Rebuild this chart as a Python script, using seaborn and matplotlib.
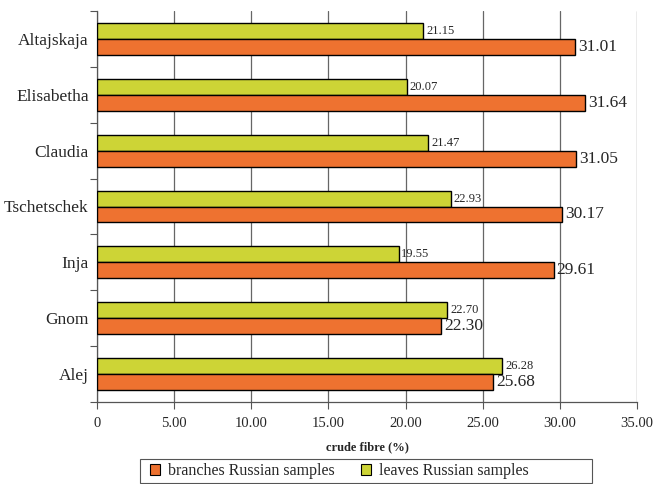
import matplotlib
matplotlib.use("Agg")
import matplotlib.pyplot as plt
from matplotlib.patches import Patch, Rectangle
from matplotlib.ticker import FuncFormatter, FixedLocator
import pandas as pd
import seaborn as sns

categories = ["Altajskaja", "Elisabetha", "Claudia", "Tschetschek", "Inja", "Gnom", "Alej"]
branches = [31.01, 31.64, 31.05, 30.17, 29.61, 22.30, 25.68]
leaves = [21.15, 20.07, 21.47, 22.93, 19.55, 22.70, 26.28]
series_names = ["branches Russian samples", "leaves Russian samples"]
x_ticks = [0, 5, 10, 15, 20, 25, 30, 35]

colors = {"branches Russian samples": "#EE7230", "leaves Russian samples": "#CDD436"}

df = pd.DataFrame({
    "variety": categories * 2,
    "value": leaves + branches,
    "series": [series_names[1]] * len(categories) + [series_names[0]] * len(categories),
})

sns.set_style("white")
plt.rcParams["font.family"] = ["Liberation Serif", "DejaVu Serif"]

W, H = 659, 484
fig = plt.figure(figsize=(W / 100, H / 100), dpi=100)
ax = fig.add_axes([97 / W, 1 - 402 / H, 540 / W, 391 / H])

sns.barplot(
    data=df, y="variety", x="value", hue="series",
    order=categories, hue_order=[series_names[1], series_names[0]],
    palette=colors, saturation=1, orient="h", width=0.57, edgecolor="black",
    linewidth=1.0, legend=False, ax=ax, zorder=3,
)

# value labels: small for leaves, large for branches
ax.bar_label(ax.containers[0], fmt="%.2f", padding=2, fontsize=9)
ax.bar_label(ax.containers[1], fmt="%.2f", padding=2, fontsize=12.5)

ax.set_xlim(0, 35)
ax.set_ylim(len(categories) - 0.5, -0.5)
ax.set_xticks(x_ticks)
ax.xaxis.set_major_formatter(FuncFormatter(lambda v, p: "0" if v == 0 else f"{v:.2f}"))
ax.tick_params(axis="x", labelsize=10.5, length=5, width=0.8, color="#555555",
               direction="out", bottom=True, pad=6)
ax.tick_params(axis="y", which="major", length=0, labelsize=12.5, pad=6)
ax.yaxis.set_minor_locator(FixedLocator([i - 0.5 for i in range(len(categories) + 1)]))
ax.tick_params(axis="y", which="minor", length=5, width=0.8, color="#555555",
               direction="out", left=True)

ax.grid(axis="x", color="#666666", linewidth=0.9, zorder=0)
ax.grid(axis="y", visible=False)
for side in ("top", "right"):
    ax.spines[side].set_visible(False)
for side in ("left", "bottom"):
    ax.spines[side].set_color("#555555")
    ax.spines[side].set_linewidth(0.9)

ax.set_ylabel("")
ax.set_xlabel("crude fibre (%)", fontsize=9, fontweight="bold", labelpad=8)

# legend box below the plot
fig.add_artist(Rectangle((140 / W, 1 - 483 / H), 452 / W, 24 / H,
                         transform=fig.transFigure, facecolor="white",
                         edgecolor="#555555", linewidth=0.8))
handles = [Patch(facecolor=colors[n], edgecolor="black", linewidth=0.8) for n in series_names]
fig.legend(handles, series_names, loc="center left", ncol=2,
           bbox_to_anchor=(150 / W, 1 - 471 / H),
           fontsize=11.5, frameon=False,
           handlelength=0.65, handleheight=0.65, handletextpad=0.5,
           columnspacing=1.6, borderpad=0.0, borderaxespad=0)

fig.savefig("out.png", dpi=100)
